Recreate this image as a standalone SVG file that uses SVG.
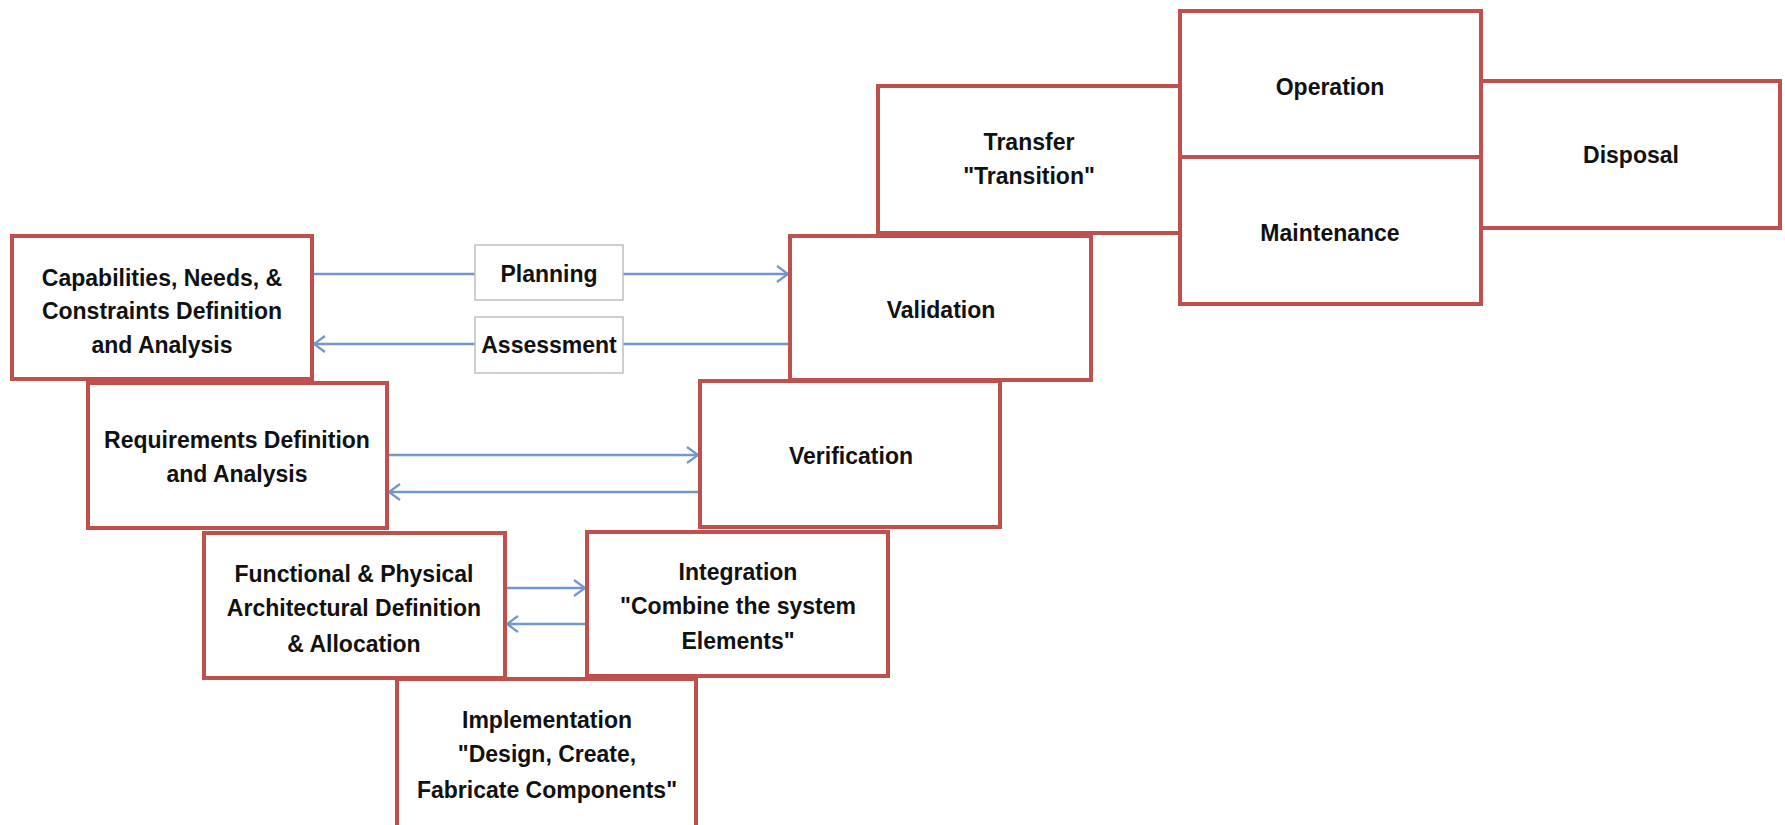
<svg xmlns="http://www.w3.org/2000/svg" width="1785" height="825" viewBox="0 0 1785 825">
<defs>
<style>
.box{fill:#fff;stroke:#C0504D;stroke-width:4}
.lbl{fill:#fff;stroke:#BFBFBF;stroke-width:1.5}
.t{font-family:"Liberation Sans",Arial,sans-serif;font-size:23px;font-weight:bold;fill:#111;text-anchor:middle}
.c{fill:none;stroke:#7197CC;stroke-width:2.5}
</style>
<marker id="ah" markerUnits="userSpaceOnUse" markerWidth="16" markerHeight="20" refX="13" refY="10" orient="auto">
<path d="M2,2 L13,10 L2,18" fill="none" stroke="#7197CC" stroke-width="2.2"/>
</marker>
</defs>
<rect width="1785" height="825" fill="#fff"/>
<g id="connectors">
<line class="c" x1="312" y1="274" x2="788" y2="274" marker-end="url(#ah)"/>
<line class="c" x1="790" y1="344" x2="314" y2="344" marker-end="url(#ah)"/>
<line class="c" x1="387" y1="455" x2="698" y2="455" marker-end="url(#ah)"/>
<line class="c" x1="700" y1="492" x2="389" y2="492" marker-end="url(#ah)"/>
<line class="c" x1="505" y1="588" x2="585" y2="588" marker-end="url(#ah)"/>
<line class="c" x1="587" y1="624" x2="507" y2="624" marker-end="url(#ah)"/>
</g>
<g id="planning"><rect class="lbl" x="475" y="245" width="148" height="55"/><text class="t" x="549" y="282">Planning</text></g>
<g id="assessment"><rect class="lbl" x="475" y="317" width="148" height="56"/><text class="t" x="549" y="353">Assessment</text></g>
<g id="implementation"><rect class="box" x="397" y="679" width="299" height="150"/>
<text class="t" x="547" y="728">Implementation</text><text class="t" x="547" y="762">"Design, Create,</text><text class="t" x="547" y="798">Fabricate Components"</text></g>
<g id="functional"><rect class="box" x="204" y="533" width="301" height="145"/>
<text class="t" x="354" y="582">Functional &amp; Physical</text><text class="t" x="354" y="616">Architectural Definition</text><text class="t" x="354" y="652">&amp; Allocation</text></g>
<g id="integration"><rect class="box" x="587" y="532" width="301" height="144"/>
<text class="t" x="738" y="580">Integration</text><text class="t" x="738" y="614">"Combine the system</text><text class="t" x="738" y="649">Elements"</text></g>
<g id="requirements"><rect class="box" x="88" y="383" width="299" height="145"/>
<text class="t" x="237" y="448">Requirements Definition</text><text class="t" x="237" y="482">and Analysis</text></g>
<g id="verification"><rect class="box" x="700" y="381" width="300" height="146"/>
<text class="t" x="851" y="464">Verification</text></g>
<g id="capabilities"><rect class="box" x="12" y="236" width="300" height="143"/>
<text class="t" x="162" y="286">Capabilities, Needs, &amp;</text><text class="t" x="162" y="319">Constraints Definition</text><text class="t" x="162" y="353">and Analysis</text></g>
<g id="validation"><rect class="box" x="790" y="236" width="301" height="144"/>
<text class="t" x="941" y="318">Validation</text></g>
<g id="transfer"><rect class="box" x="878" y="86" width="302" height="147"/>
<text class="t" x="1029" y="150">Transfer</text><text class="t" x="1029" y="184">"Transition"</text></g>
<g id="disposal"><rect class="box" x="1481" y="81" width="299" height="147"/>
<text class="t" x="1631" y="163">Disposal</text></g>
<g id="operation"><rect class="box" x="1180" y="11" width="301" height="146"/>
<text class="t" x="1330" y="95">Operation</text></g>
<g id="maintenance"><rect class="box" x="1180" y="157" width="301" height="147"/>
<text class="t" x="1330" y="241">Maintenance</text></g>
</svg>
